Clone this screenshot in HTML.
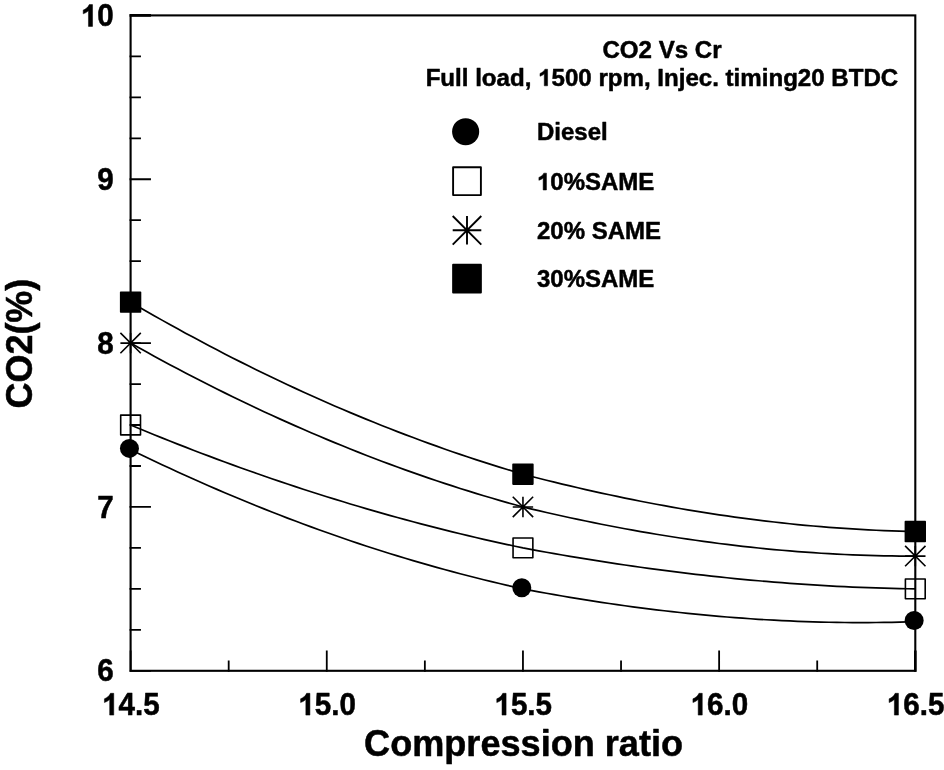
<!DOCTYPE html>
<html><head><meta charset="utf-8"><title>CO2 Vs Cr</title>
<style>
html,body{margin:0;padding:0;background:#fff;}
body{width:944px;height:770px;overflow:hidden;}
svg{display:block;will-change:transform;}
text{font-family:"Liberation Sans",sans-serif;font-weight:bold;fill:#000;font-kerning:none;white-space:pre;}
.t text,.t path{stroke:#000;stroke-width:0.5px;stroke-linejoin:round;}
.h{visibility:hidden;}
</style></head><body>
<svg width="944" height="770" viewBox="0 0 944 770">
<rect x="0" y="0" width="944" height="770" fill="#fff"/>
<path d="M130.60 449.60 L138.45 453.43 L146.29 457.22 L154.14 460.96 L161.99 464.66 L169.83 468.32 L177.68 471.94 L185.53 475.51 L193.38 479.04 L201.22 482.53 L209.07 485.98 L216.92 489.38 L224.76 492.74 L232.61 496.06 L240.46 499.33 L248.31 502.57 L256.15 505.76 L264.00 508.90 L271.85 512.01 L279.69 515.07 L287.54 518.09 L295.39 521.07 L303.23 524.00 L311.08 526.90 L318.93 529.74 L326.77 532.55 L334.62 535.32 L342.47 538.04 L350.32 540.72 L358.16 543.35 L366.01 545.95 L373.86 548.50 L381.70 551.01 L389.55 553.47 L397.40 555.90 L405.24 558.28 L413.09 560.61 L420.94 562.91 L428.79 565.16 L436.63 567.37 L444.48 569.54 L452.33 571.67 L460.17 573.75 L468.02 575.79 L475.87 577.79 L483.72 579.74 L491.56 581.65 L499.41 583.52 L507.26 585.35 L515.10 587.13 L522.95 588.88 L530.80 590.36 L538.64 591.82 L546.49 593.24 L554.34 594.63 L562.18 596.00 L570.03 597.33 L577.88 598.62 L585.73 599.89 L593.57 601.13 L601.42 602.33 L609.27 603.50 L617.11 604.63 L624.96 605.74 L632.81 606.81 L640.66 607.85 L648.50 608.85 L656.35 609.82 L664.20 610.76 L672.04 611.66 L679.89 612.53 L687.74 613.36 L695.58 614.16 L703.43 614.93 L711.28 615.65 L719.12 616.35 L726.97 617.01 L734.82 617.63 L742.67 618.21 L750.51 618.77 L758.36 619.28 L766.21 619.76 L774.05 620.20 L781.90 620.60 L789.75 620.97 L797.59 621.30 L805.44 621.59 L813.29 621.85 L821.14 622.06 L828.98 622.24 L836.83 622.38 L844.68 622.49 L852.52 622.55 L860.37 622.58 L868.22 622.56 L876.06 622.51 L883.91 622.41 L891.76 622.28 L899.61 622.11 L907.45 621.90 L915.30 621.64" fill="none" stroke="#000" stroke-width="1.7" stroke-linejoin="round"/>
<path d="M130.60 425.02 L138.45 428.29 L146.29 431.51 L154.14 434.71 L161.99 437.87 L169.83 441.00 L177.68 444.10 L185.53 447.16 L193.38 450.19 L201.22 453.19 L209.07 456.16 L216.92 459.09 L224.76 461.99 L232.61 464.86 L240.46 467.69 L248.31 470.49 L256.15 473.26 L264.00 476.00 L271.85 478.70 L279.69 481.37 L287.54 484.01 L295.39 486.62 L303.23 489.19 L311.08 491.73 L318.93 494.24 L326.77 496.71 L334.62 499.15 L342.47 501.56 L350.32 503.94 L358.16 506.28 L366.01 508.59 L373.86 510.87 L381.70 513.11 L389.55 515.32 L397.40 517.50 L405.24 519.65 L413.09 521.76 L420.94 523.84 L428.79 525.89 L436.63 527.91 L444.48 529.89 L452.33 531.84 L460.17 533.76 L468.02 535.64 L475.87 537.49 L483.72 539.31 L491.56 541.10 L499.41 542.85 L507.26 544.57 L515.10 546.26 L522.95 547.91 L530.80 549.37 L538.64 550.81 L546.49 552.22 L554.34 553.60 L562.18 554.97 L570.03 556.30 L577.88 557.62 L585.73 558.91 L593.57 560.17 L601.42 561.41 L609.27 562.63 L617.11 563.82 L624.96 564.98 L632.81 566.12 L640.66 567.23 L648.50 568.32 L656.35 569.38 L664.20 570.42 L672.04 571.43 L679.89 572.41 L687.74 573.37 L695.58 574.30 L703.43 575.20 L711.28 576.07 L719.12 576.92 L726.97 577.74 L734.82 578.54 L742.67 579.30 L750.51 580.04 L758.36 580.75 L766.21 581.44 L774.05 582.09 L781.90 582.72 L789.75 583.31 L797.59 583.88 L805.44 584.42 L813.29 584.93 L821.14 585.42 L828.98 585.87 L836.83 586.29 L844.68 586.69 L852.52 587.05 L860.37 587.38 L868.22 587.69 L876.06 587.96 L883.91 588.21 L891.76 588.42 L899.61 588.60 L907.45 588.75 L915.30 588.88" fill="none" stroke="#000" stroke-width="1.7" stroke-linejoin="round"/>
<path d="M130.60 343.10 L138.45 347.50 L146.29 351.86 L154.14 356.17 L161.99 360.43 L169.83 364.65 L177.68 368.82 L185.53 372.94 L193.38 377.02 L201.22 381.06 L209.07 385.05 L216.92 388.99 L224.76 392.88 L232.61 396.73 L240.46 400.54 L248.31 404.30 L256.15 408.01 L264.00 411.68 L271.85 415.30 L279.69 418.87 L287.54 422.40 L295.39 425.89 L303.23 429.32 L311.08 432.72 L318.93 436.06 L326.77 439.36 L334.62 442.62 L342.47 445.82 L350.32 448.99 L358.16 452.10 L366.01 455.17 L373.86 458.20 L381.70 461.18 L389.55 464.11 L397.40 467.00 L405.24 469.84 L413.09 472.63 L420.94 475.38 L428.79 478.09 L436.63 480.74 L444.48 483.36 L452.33 485.92 L460.17 488.44 L468.02 490.92 L475.87 493.34 L483.72 495.73 L491.56 498.06 L499.41 500.35 L507.26 502.60 L515.10 504.80 L522.95 506.95 L530.80 508.83 L538.64 510.67 L546.49 512.48 L554.34 514.26 L562.18 516.00 L570.03 517.71 L577.88 519.39 L585.73 521.03 L593.57 522.64 L601.42 524.21 L609.27 525.75 L617.11 527.25 L624.96 528.72 L632.81 530.15 L640.66 531.54 L648.50 532.90 L656.35 534.22 L664.20 535.51 L672.04 536.76 L679.89 537.97 L687.74 539.14 L695.58 540.28 L703.43 541.38 L711.28 542.44 L719.12 543.47 L726.97 544.45 L734.82 545.40 L742.67 546.31 L750.51 547.18 L758.36 548.01 L766.21 548.80 L774.05 549.56 L781.90 550.27 L789.75 550.94 L797.59 551.57 L805.44 552.17 L813.29 552.72 L821.14 553.23 L828.98 553.70 L836.83 554.13 L844.68 554.52 L852.52 554.86 L860.37 555.17 L868.22 555.43 L876.06 555.65 L883.91 555.82 L891.76 555.96 L899.61 556.05 L907.45 556.10 L915.30 556.10" fill="none" stroke="#000" stroke-width="1.7" stroke-linejoin="round"/>
<path d="M130.60 302.14 L138.45 306.70 L146.29 311.22 L154.14 315.69 L161.99 320.12 L169.83 324.50 L177.68 328.84 L185.53 333.13 L193.38 337.37 L201.22 341.57 L209.07 345.72 L216.92 349.83 L224.76 353.89 L232.61 357.90 L240.46 361.87 L248.31 365.79 L256.15 369.67 L264.00 373.50 L271.85 377.29 L279.69 381.02 L287.54 384.72 L295.39 388.37 L303.23 391.97 L311.08 395.52 L318.93 399.03 L326.77 402.50 L334.62 405.91 L342.47 409.29 L350.32 412.61 L358.16 415.89 L366.01 419.13 L373.86 422.31 L381.70 425.46 L389.55 428.55 L397.40 431.61 L405.24 434.61 L413.09 437.57 L420.94 440.48 L428.79 443.35 L436.63 446.17 L444.48 448.95 L452.33 451.68 L460.17 454.36 L468.02 457.00 L475.87 459.59 L483.72 462.14 L491.56 464.64 L499.41 467.09 L507.26 469.50 L515.10 471.86 L522.95 474.18 L530.80 476.22 L538.64 478.23 L546.49 480.20 L554.34 482.15 L562.18 484.05 L570.03 485.93 L577.88 487.77 L585.73 489.57 L593.57 491.34 L601.42 493.08 L609.27 494.78 L617.11 496.45 L624.96 498.08 L632.81 499.67 L640.66 501.23 L648.50 502.75 L656.35 504.24 L664.20 505.69 L672.04 507.10 L679.89 508.48 L687.74 509.81 L695.58 511.12 L703.43 512.38 L711.28 513.61 L719.12 514.79 L726.97 515.94 L734.82 517.06 L742.67 518.13 L750.51 519.16 L758.36 520.16 L766.21 521.11 L774.05 522.03 L781.90 522.91 L789.75 523.74 L797.59 524.54 L805.44 525.30 L813.29 526.01 L821.14 526.69 L828.98 527.32 L836.83 527.91 L844.68 528.46 L852.52 528.97 L860.37 529.44 L868.22 529.87 L876.06 530.25 L883.91 530.59 L891.76 530.89 L899.61 531.15 L907.45 531.36 L915.30 531.53" fill="none" stroke="#000" stroke-width="1.7" stroke-linejoin="round"/>
<rect x="130.60" y="15.40" width="784.70" height="655.40" fill="none" stroke="#000" stroke-width="2.1"/>
<path d="M129.55 670.80 h21.4 M129.55 629.84 h11.4 M129.55 588.88 h11.4 M129.55 547.91 h11.4 M129.55 506.95 h21.4 M129.55 465.99 h11.4 M129.55 425.02 h11.4 M129.55 384.06 h11.4 M129.55 343.10 h21.4 M129.55 302.14 h11.4 M129.55 261.17 h11.4 M129.55 220.21 h11.4 M129.55 179.25 h21.4 M129.55 138.29 h11.4 M129.55 97.32 h11.4 M129.55 56.36 h11.4 M130.60 671.85 v-21.4 M228.69 671.85 v-11.4 M326.77 671.85 v-21.4 M424.86 671.85 v-11.4 M522.95 671.85 v-21.4 M621.04 671.85 v-11.4 M719.12 671.85 v-21.4 M817.21 671.85 v-11.4" fill="none" stroke="#000" stroke-width="1.8"/>
<path d="M129.55 15.40 h21.4 M915.30 671.85 v-21.4" fill="none" stroke="#000" stroke-width="2.6"/>
<circle cx="129.45" cy="448.40" r="9.50" fill="#000"/>
<circle cx="521.80" cy="587.67" r="9.50" fill="#000"/>
<circle cx="914.15" cy="620.44" r="9.50" fill="#000"/>
<rect x="120.70" y="415.12" width="19.80" height="19.80" fill="none" stroke="#000" stroke-width="1.6" stroke-linejoin="round"/>
<rect x="513.05" y="538.01" width="19.80" height="19.80" fill="none" stroke="#000" stroke-width="1.6" stroke-linejoin="round"/>
<rect x="905.40" y="578.98" width="19.80" height="19.80" fill="none" stroke="#000" stroke-width="1.6" stroke-linejoin="round"/>
<path d="M120.40 343.10 h20.40 M130.60 332.90 v20.40 M120.40 332.90 l20.40 20.40 M120.40 353.30 l20.40 -20.40" fill="none" stroke="#000" stroke-width="1.6"/>
<path d="M512.75 506.95 h20.40 M522.95 496.75 v20.40 M512.75 496.75 l20.40 20.40 M512.75 517.15 l20.40 -20.40" fill="none" stroke="#000" stroke-width="1.6"/>
<path d="M905.10 556.10 h20.40 M915.30 545.90 v20.40 M905.10 545.90 l20.40 20.40 M905.10 566.30 l20.40 -20.40" fill="none" stroke="#000" stroke-width="1.6"/>
<rect x="120.70" y="292.24" width="19.80" height="19.80" fill="#000" stroke="#000" stroke-width="1.6" stroke-linejoin="round"/>
<rect x="513.05" y="464.28" width="19.80" height="19.80" fill="#000" stroke="#000" stroke-width="1.6" stroke-linejoin="round"/>
<rect x="905.40" y="521.63" width="19.80" height="19.80" fill="#000" stroke="#000" stroke-width="1.6" stroke-linejoin="round"/>
<circle cx="465.65" cy="131.70" r="13.55" fill="#000"/>
<rect x="453.10" y="167.30" width="27.80" height="27.80" fill="none" stroke="#000" stroke-width="1.9" stroke-linejoin="round"/>
<path d="M452.70 230.30 h28.60 M467.00 216.00 v28.60 M452.70 216.00 l28.60 28.60 M452.70 244.60 l28.60 -28.60" fill="none" stroke="#000" stroke-width="1.9"/>
<rect x="453.10" y="264.80" width="27.80" height="27.80" fill="#000" stroke="#000" stroke-width="1.9" stroke-linejoin="round"/>
<g class="t" transform="translate(537.00 140.40) scale(1 1.0200)"><text x="0.00" y="0" font-size="24.0">Diesel</text></g>
<g class="t" transform="translate(537.00 190.00) scale(1 1.0200)"><text x="0.00" y="0" font-size="24.0"><tspan class="h">1</tspan>0%SAME</text><path vector-effect="non-scaling-stroke" d="M806 0H525V1014Q371 876 162 810V1054Q272 1088 401 1185Q530 1281 578 1409H806Z" transform="translate(0.00 0) scale(0.011719 -0.011719)"/></g>
<g class="t" transform="translate(537.00 238.60) scale(1 1.0200)"><text x="0.00" y="0" font-size="24.0">20% SAME</text></g>
<g class="t" transform="translate(537.00 286.50) scale(1 1.0200)"><text x="0.00" y="0" font-size="24.0">30%SAME</text></g>
<g class="t" transform="translate(662.00 57.90) scale(1 1.0000)"><text x="-59.60" y="0" font-size="24.1">CO2 Vs Cr</text></g>
<g class="t" transform="translate(662.00 85.80) scale(1 1.0000)"><text x="-236.36" y="0" font-size="24.1">Full load, <tspan class="h">1</tspan>500 rpm, Injec. timing20 BTDC</text><path vector-effect="non-scaling-stroke" d="M806 0H525V1014Q371 876 162 810V1054Q272 1088 401 1185Q530 1281 578 1409H806Z" transform="translate(-123.90 0) scale(0.011768 -0.011768)"/></g>
<g class="t" transform="translate(113.80 681.00) scale(1 1.0700)"><text x="-16.46" y="0" font-size="29.6">6</text></g>
<g class="t" transform="translate(113.80 517.95) scale(1 1.0700)"><text x="-16.46" y="0" font-size="29.6">7</text></g>
<g class="t" transform="translate(113.80 354.10) scale(1 1.0700)"><text x="-16.46" y="0" font-size="29.6">8</text></g>
<g class="t" transform="translate(113.80 190.25) scale(1 1.0700)"><text x="-16.46" y="0" font-size="29.6">9</text></g>
<g class="t" transform="translate(113.80 26.40) scale(1 1.0700)"><text x="-32.92" y="0" font-size="29.6"><tspan class="h">1</tspan>0</text><path vector-effect="non-scaling-stroke" d="M806 0H525V1014Q371 876 162 810V1054Q272 1088 401 1185Q530 1281 578 1409H806Z" transform="translate(-32.92 0) scale(0.014453 -0.014453)"/></g>
<g class="t" transform="translate(130.90 715.10) scale(1 1.0700)"><text x="-28.81" y="0" font-size="29.6"><tspan class="h">1</tspan>4.5</text><path vector-effect="non-scaling-stroke" d="M806 0H525V1014Q371 876 162 810V1054Q272 1088 401 1185Q530 1281 578 1409H806Z" transform="translate(-28.81 0) scale(0.014453 -0.014453)"/></g>
<g class="t" transform="translate(327.07 715.10) scale(1 1.0700)"><text x="-28.81" y="0" font-size="29.6"><tspan class="h">1</tspan>5.0</text><path vector-effect="non-scaling-stroke" d="M806 0H525V1014Q371 876 162 810V1054Q272 1088 401 1185Q530 1281 578 1409H806Z" transform="translate(-28.81 0) scale(0.014453 -0.014453)"/></g>
<g class="t" transform="translate(523.25 715.10) scale(1 1.0700)"><text x="-28.81" y="0" font-size="29.6"><tspan class="h">1</tspan>5.5</text><path vector-effect="non-scaling-stroke" d="M806 0H525V1014Q371 876 162 810V1054Q272 1088 401 1185Q530 1281 578 1409H806Z" transform="translate(-28.81 0) scale(0.014453 -0.014453)"/></g>
<g class="t" transform="translate(719.42 715.10) scale(1 1.0700)"><text x="-28.81" y="0" font-size="29.6"><tspan class="h">1</tspan>6.0</text><path vector-effect="non-scaling-stroke" d="M806 0H525V1014Q371 876 162 810V1054Q272 1088 401 1185Q530 1281 578 1409H806Z" transform="translate(-28.81 0) scale(0.014453 -0.014453)"/></g>
<g class="t" transform="translate(915.60 715.10) scale(1 1.0700)"><text x="-28.81" y="0" font-size="29.6"><tspan class="h">1</tspan>6.5</text><path vector-effect="non-scaling-stroke" d="M806 0H525V1014Q371 876 162 810V1054Q272 1088 401 1185Q530 1281 578 1409H806Z" transform="translate(-28.81 0) scale(0.014453 -0.014453)"/></g>
<g class="t" transform="translate(523.60 756.20) scale(1 1.0430)"><text x="-159.56" y="0" font-size="36.12">Compression ratio</text></g>
<g class="t" transform="translate(32.20 343.60) rotate(-90) scale(1 1.0300)"><text x="-64.82" y="0" font-size="35.9">CO2(%)</text></g>
</svg></body></html>
